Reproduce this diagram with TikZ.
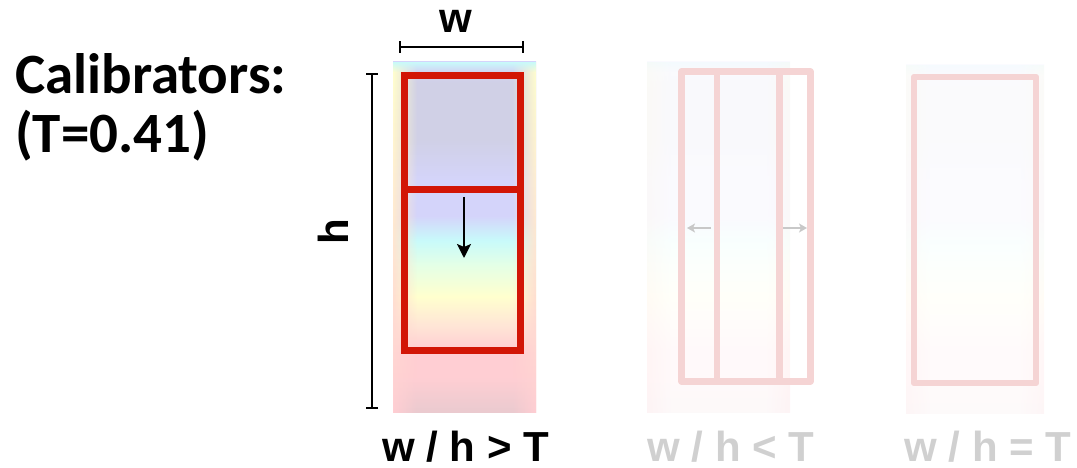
\documentclass[tikz,border=0pt]{standalone}
\usepackage{fontspec}
\setmainfont{Liberation Sans}
\newfontfamily\calibrifont{Carlito}
\usetikzlibrary{arrows.meta,fadings}
\definecolor{redmain}{RGB}{210,22,6}
\definecolor{redfade}{RGB}{245,212,212}
\definecolor{graytext}{RGB}{208,208,208}
\definecolor{grayarrow}{RGB}{200,200,200}
\definecolor{hpinkA}{RGB}{255,206,211}
\definecolor{hpinkB}{RGB}{234,202,207}
\definecolor{hpeach}{RGB}{255,230,214}
\definecolor{hyel}{RGB}{255,255,206}
\definecolor{hcyy}{RGB}{228,255,230}
\definecolor{hcyan}{RGB}{200,250,250}
\definecolor{hlav}{RGB}{212,212,250}
\definecolor{hlavg}{RGB}{208,208,230}
\pgfdeclareverticalshading{heatv}{100bp}{color(0bp)=(hpinkB); color(25bp)=(hpinkB); color(30bp)=(hpinkA); color(34bp)=(hpinkA); color(37.5bp)=(hpeach); color(41.5bp)=(hyel); color(46bp)=(hcyy); color(49.5bp)=(hcyan); color(53bp)=(hlav); color(58bp)=(hlav); color(64bp)=(hlavg); color(72bp)=(hlavg); color(75bp)=(hlav); color(100bp)=(hlav)}
\tikzset{
  lab/.style={font=\bfseries\fontsize{42}{42}\selectfont, inner sep=0pt},
  ttl/.style={anchor=base west, inner sep=0pt, font=\calibrifont\bfseries\fontsize{57}{57}\selectfont},
  redbox/.style={draw=redmain, line width=7pt, inner sep=0pt},
  fadebox/.style={draw=redfade, line width=6.5pt, inner sep=0pt, line join=round},
  dimline/.style={line width=1.6pt, {Bar[width=12pt]}-{Bar[width=12pt]}},
  movearrow/.style={line width=2pt, -{Stealth[length=14pt,width=14pt,inset=3pt]}},
  grayarr/.style={draw=grayarrow, line width=1.6pt, -{Stealth[length=8pt,width=9pt,inset=2pt]}},
}
\newcommand{\heatpanel}[5]{% x1 y1 x2 y2 opacity
  \begin{scope}
    \clip (#1,#2) rectangle (#3,#4);
    \shade[shading=heatv, opacity=#5] (#1,#2) rectangle (#3,#4);
    \shade[top color=hyel, bottom color=hpinkA, path fading=east, opacity=#5] (#1,#2) rectangle ({#1+24},#4);
    \shade[top color=hyel, bottom color=hpinkA, path fading=west, opacity=#5] ({#3-24},#2) rectangle (#3,#4);
    \fill[hcyan, path fading=south, opacity=#5] (#1,#2) rectangle (#3,{#2+10});
  \end{scope}}
\begin{document}
\begin{tikzpicture}[x=1pt,y=-1pt]
\useasboundingbox (0,0) rectangle (1077,468);
% panel backgrounds
\heatpanel{393}{62}{536}{412}{1}
\heatpanel{647}{62}{790}{412}{0.12}
\heatpanel{906}{65}{1044}{413}{0.10}
% title
\node[ttl] (title1) at (15,94) {Calibrators:};
\node[ttl] (title2) at (15,153) {(T=0.41)};
% panel 1
\node[redbox, minimum width=116pt, minimum height=161pt] (win2) at (462.5,270) {};
\node[redbox, minimum width=116pt, minimum height=114pt] (win1) at (462.5,132.5) {};
\coordinate (a1s) at (464,197);
\coordinate (a1e) at (464,258);
\draw[movearrow] (a1s) -- (a1e);
\coordinate (wL) at (399,47);
\coordinate (wR) at (524,47);
\draw[dimline] (wL) -- (wR);
\coordinate (hT) at (372,73);
\coordinate (hB) at (372,409);
\draw[dimline] (hT) -- (hB);
\node[lab, anchor=base] (wlab) at (455.5,33) {w};
\node[lab, rotate=90] (hlab) at (333,232) {h};
\node[lab, anchor=base] (lab1) at (465.5,461) {w / h > T};
% panel 2
\node[fadebox, minimum width=129pt, minimum height=310pt] (outer2) at (746,226.5) {};
\node[fadebox, minimum width=62.5pt, minimum height=310pt] (mid2) at (748.25,226.5) {};
\coordinate (l2s) at (711,228);
\coordinate (l2e) at (687,228);
\coordinate (r2s) at (783,228);
\coordinate (r2e) at (807,228);
\draw[grayarr] (l2s) -- (l2e);
\draw[grayarr] (r2s) -- (r2e);
\node[lab, anchor=base, text=graytext] (lab2) at (731,461) {w / h < T};
% panel 3
\node[fadebox, minimum width=122pt, minimum height=306pt] (box3) at (975,230) {};
\node[lab, anchor=base, text=graytext] (lab3) at (988,461) {w / h = T};
\end{tikzpicture}
\end{document}
